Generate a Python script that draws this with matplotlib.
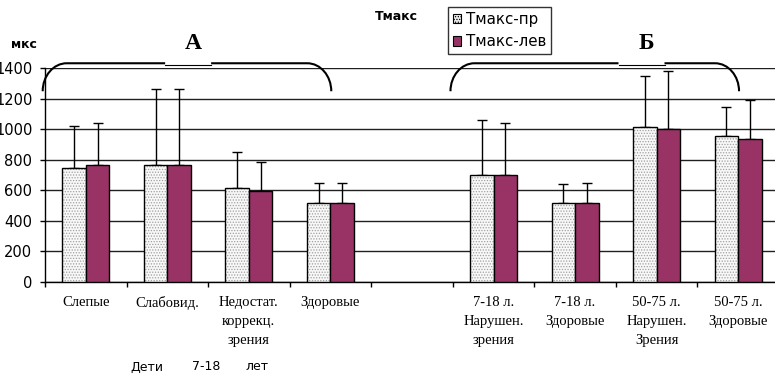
import numpy as np
import matplotlib
matplotlib.use("Agg")
import matplotlib.pyplot as plt
from matplotlib.patches import Patch, PathPatch
from matplotlib.path import Path

# Category labels (the empty slot separates the two groups)
categories = [
    "Слепые",
    "Слабовид.",
    "Недостат.\nкоррекц.\nзрения",
    "Здоровые",
    "",
    "7-18 л.\nНарушен.\nзрения",
    "7-18 л.\nЗдоровые",
    "50-75 л.\nНарушен.\nЗрения",
    "50-75 л.\nЗдоровые",
]

# Mean Tmax, microseconds
tmax_right = [745, 763, 618, 516, np.nan, 703, 516, 1017, 954]
tmax_left = [763, 763, 597, 516, np.nan, 703, 516, 1001, 938]

# Standard deviations (drawn upward only)
sd_right = [278, 497, 231, 129, np.nan, 355, 126, 331, 189]
sd_left = [277, 497, 189, 134, np.nan, 337, 132, 379, 255]

yticks = [0, 200, 400, 600, 800, 1000, 1200, 1400]
series_names = ["Тмакс-пр", "Тмакс-лев"]
group_labels = ["А", "Б"]
group_spans = [(0, 3), (5, 8)]

PLUM = "#993366"
SANS = ["DejaVu Sans"]
SERIF = ["Liberation Serif", "DejaVu Serif"]

plt.rcParams["hatch.linewidth"] = 0.6

fig = plt.figure(figsize=(7.75, 3.74), dpi=100)
ax = fig.add_axes([45 / 775, 92 / 374, 734 / 775, 214 / 374])

x = np.arange(len(categories))
w = 0.288

# dotted bars: stipple fill first, then a crisp black outline
ax.bar(x - w / 2, tmax_right, w, color="#f8f8f8", hatch="......",
       edgecolor="#a0a0a0", linewidth=0, zorder=3)
ax.bar(x - w / 2, tmax_right, w, fill=False, edgecolor="black",
       linewidth=1.0, zorder=4)
ax.bar(x + w / 2, tmax_left, w, color=PLUM, edgecolor="black",
       linewidth=1.0, zorder=4)

zeros = np.zeros(len(x))
ax.errorbar(x - w / 2, tmax_right, yerr=[zeros, sd_right], fmt="none",
            ecolor="black", elinewidth=1.0, capsize=3.6, capthick=1.0, zorder=2)
ax.errorbar(x + w / 2, tmax_left, yerr=[zeros, sd_left], fmt="none",
            ecolor="black", elinewidth=1.0, capsize=3.6, capthick=1.0, zorder=2)

ax.set_xlim(-0.5, len(categories) - 0.5)
ax.set_ylim(0, 1400)
ax.set_yticks(yticks)
ax.set_yticklabels([str(v) for v in yticks], family=SANS, fontsize=10.5)
ax.yaxis.grid(True, color="#202020", linewidth=1.0)
ax.set_axisbelow(True)

for s in ("top", "right"):
    ax.spines[s].set_visible(False)
for s in ("left", "bottom"):
    ax.spines[s].set_color("black")
    ax.spines[s].set_linewidth(1.0)

ax.tick_params(axis="y", direction="out", length=3.6, width=1.0, pad=5.5)
ax.set_xticks(x)
ax.set_xticklabels(categories, family=SERIF, fontsize=10.5, linespacing=1.62,
                   va="top")
ax.set_xticks(np.arange(len(categories) + 1) - 0.5, minor=True)
ax.tick_params(axis="x", which="major", length=0, pad=10)
ax.tick_params(axis="x", which="minor", direction="out", length=3.6, width=1.0)

# group brackets with the group letter above the joint
ppx = 1 / (734 / len(categories))  # data units per pixel, x
ppy = 1400 / 214                     # data units per pixel, y
y_bot, y_top = 1248, 1431
rx, ry = 24 * ppx, y_top - y_bot
k = 0.552
joint = [0.504, 0.662]
gap = 23 * ppx
for (i0, i1), frac, letter in zip(group_spans, joint, group_labels):
    x0 = i0 - 0.5 - 2.3 * ppx
    x1 = i1 + 0.01
    xm = x0 + frac * (x1 - x0)
    left = Path([(x0, y_bot), (x0, y_bot + k * ry), (x0 + rx * (1 - k), y_top),
                 (x0 + rx, y_top), (xm - gap, y_top)],
                [Path.MOVETO, Path.CURVE4, Path.CURVE4, Path.CURVE4, Path.LINETO])
    right = Path([(x1, y_bot), (x1, y_bot + k * ry), (x1 - rx * (1 - k), y_top),
                  (x1 - rx, y_top), (xm + gap, y_top)],
                 [Path.MOVETO, Path.CURVE4, Path.CURVE4, Path.CURVE4, Path.LINETO])
    for p in (left, right):
        ax.add_patch(PathPatch(p, fill=False, edgecolor="black", linewidth=1.5,
                               clip_on=False, zorder=5))
    ax.plot([xm - gap, xm + gap], [y_top - 1.3 * ppy] * 2, color="black",
            linewidth=0.8, clip_on=False, zorder=5)
    ax.text(xm + 5 * ppx, 1400 + 24.5 * ppy, letter, family=SERIF,
            fontweight="bold", fontsize=17, ha="center", va="center",
            clip_on=False)

fig.text(24 / 775, 1 - 45 / 374, "мкс", family=SANS, fontweight="bold",
         fontsize=9, ha="center", va="center")
fig.text(396 / 775, 1 - 16.5 / 374, "Тмакс", family=SANS, fontweight="bold",
         fontsize=9, ha="center", va="center")

for txt, px in [("Дети", 130), ("7-18", 192), ("лет", 245)]:
    fig.text(px / 775, 1 - 367 / 374, txt, family=SANS, fontsize=9,
             ha="left", va="center")

handles = [
    Patch(facecolor="#ececec", edgecolor="black", hatch="......", linewidth=0.8,
          label=series_names[0]),
    Patch(facecolor=PLUM, edgecolor="black", linewidth=0.8,
          label=series_names[1]),
]
leg = fig.legend(handles=handles, loc="upper left",
                 bbox_to_anchor=(448 / 775, 1 - 7.3 / 374),
                 prop={"family": SANS, "size": 10.8}, frameon=True,
                 fancybox=False, shadow=False, handlelength=0.55,
                 handleheight=0.55, handletextpad=0.35, labelspacing=0.5,
                 borderpad=0.3, borderaxespad=0)
leg.get_frame().set_edgecolor("black")
leg.get_frame().set_linewidth(1.0)

fig.savefig("out.png", dpi=100)
